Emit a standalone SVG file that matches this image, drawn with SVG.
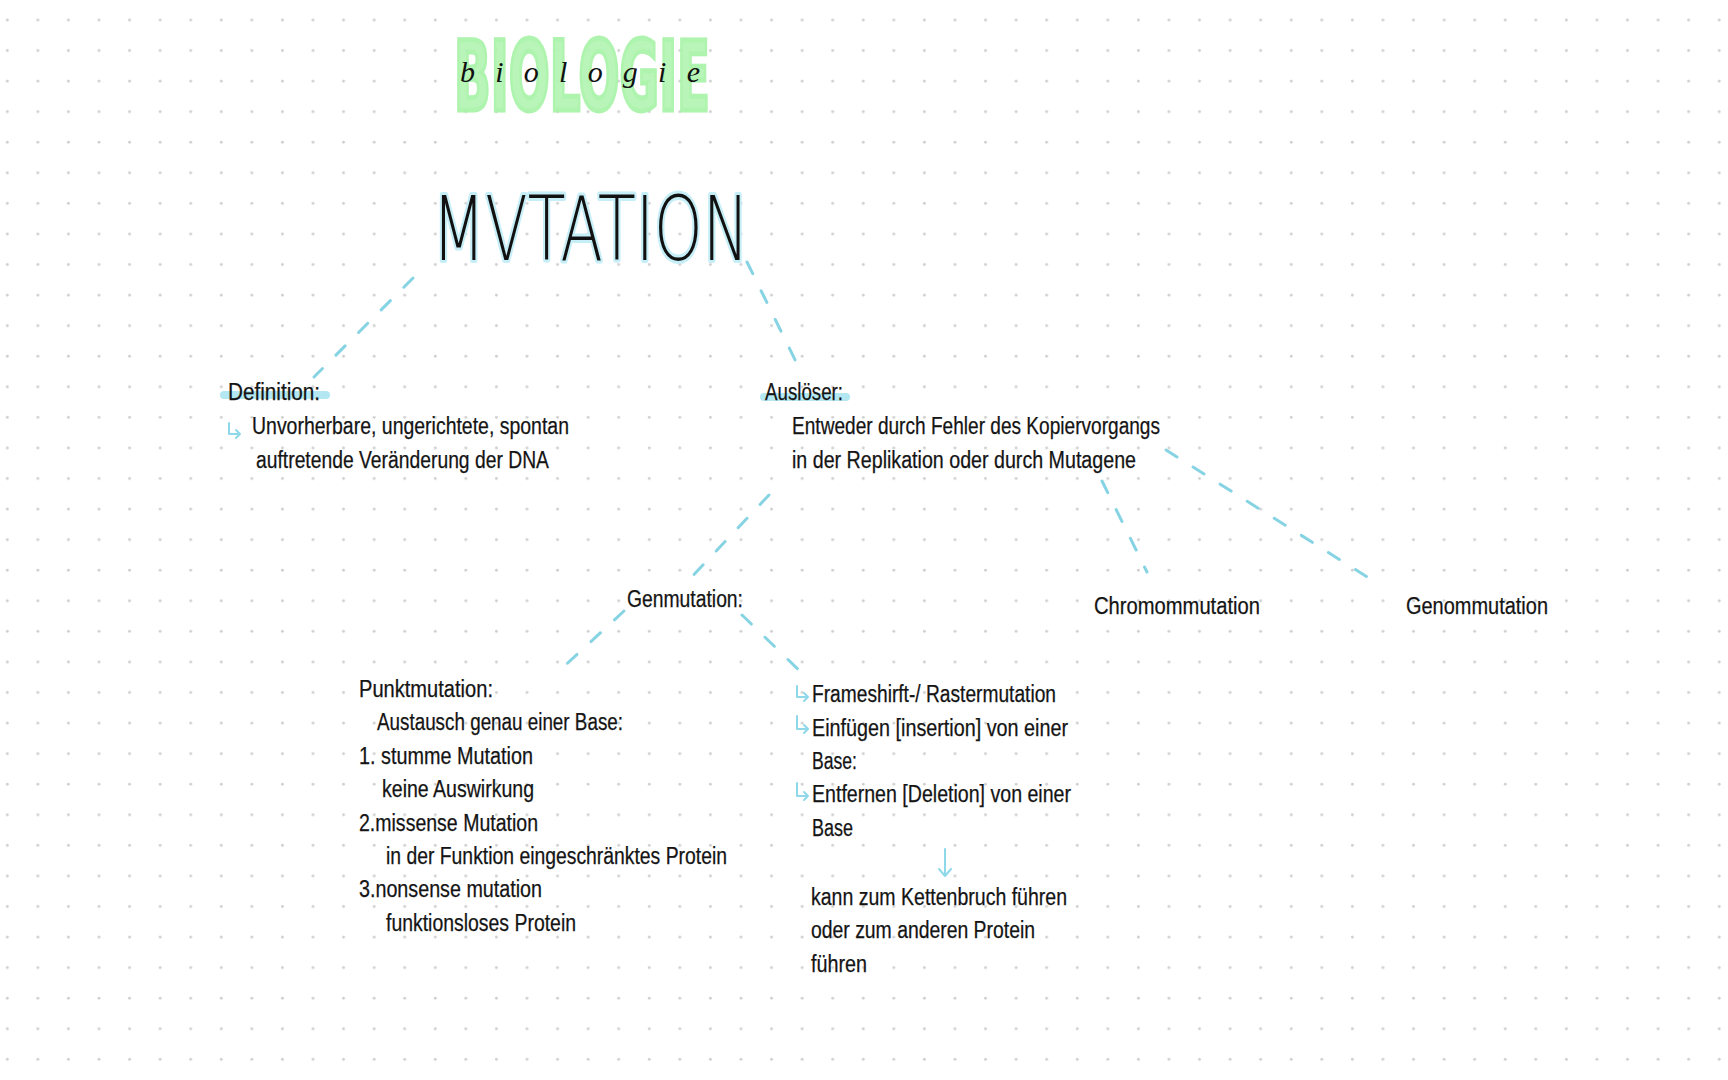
<svg xmlns="http://www.w3.org/2000/svg" width="1728" height="1080" viewBox="0 0 1728 1080">
<defs>
<pattern id="dots" patternUnits="userSpaceOnUse" x="0" y="0" width="30.57" height="30.57">
<circle cx="7.3" cy="20" r="1.4" fill="#cfcfcf"/>
</pattern>
<style>
.t{font-family:"Liberation Sans","Noto Sans",sans-serif;font-size:23px;fill:#141414;stroke:#141414;stroke-width:0.25}
.c{fill:none;stroke:#86d3e3;stroke-width:3;stroke-dasharray:13 19;stroke-linecap:round}
.a{fill:none;stroke:#8fd8ea;stroke-width:2;stroke-linecap:round;stroke-linejoin:round}
.hl{stroke:#a6e4f1;stroke-width:8;stroke-linecap:round;opacity:0.85}
</style>
</defs>
<rect width="1728" height="1080" fill="#ffffff"/>
<rect width="1728" height="1080" fill="url(#dots)"/>

<g id="header">
<text x="454" y="110" font-family="DejaVu Sans" font-weight="bold" font-size="96" fill="#b2f5b2" stroke="#a6f3a6" stroke-width="5" stroke-linejoin="miter" textLength="256" lengthAdjust="spacingAndGlyphs" opacity="0.9">BIOLOGIE</text>
<text x="460" y="82" font-family="Liberation Serif" font-style="italic" font-size="30" fill="#111" textLength="240" lengthAdjust="spacing">biologie</text>
</g>

<g id="title">
<text x="432" y="260" font-family="DejaVu Sans" font-weight="200" font-size="89" fill="none" stroke="#c6eef7" stroke-width="6" stroke-linejoin="round" textLength="317" lengthAdjust="spacingAndGlyphs">MVTATION</text>
<text x="432" y="260" font-family="DejaVu Sans" font-weight="200" font-size="89" fill="#111" textLength="317" lengthAdjust="spacingAndGlyphs">MVTATION</text>
</g>

<g id="connectors">
<line class="c" x1="413" y1="278" x2="314" y2="377"/>
<line class="c" x1="747" y1="262" x2="803" y2="376"/>
<line class="c" x1="769" y1="495" x2="686" y2="583"/>
<line class="c" x1="624" y1="611" x2="558" y2="672"/>
<line class="c" x1="742" y1="615" x2="804" y2="675"/>
<line class="c" x1="1102" y1="481" x2="1147" y2="572"/>
<line class="c" x1="1166" y1="450" x2="1372" y2="580"/>
<path class="a" d="M945 849 V876 M939 869 L945 876 L951 869"/>
</g>

<g id="definition">
<line class="hl" x1="224" y1="395" x2="326" y2="395"/>
<text class="t" x="228" y="400" textLength="92" lengthAdjust="spacingAndGlyphs">Definition:</text>
<path class="a" d="M229 423 V434 H240 M236 430 L240 434 L236 438"/>
<text class="t" x="252" y="434" textLength="317" lengthAdjust="spacingAndGlyphs">Unvorherbare, ungerichtete, spontan</text>
<text class="t" x="256" y="468" textLength="293" lengthAdjust="spacingAndGlyphs">auftretende Veränderung der DNA</text>
</g>

<g id="ausloeser">
<line class="hl" x1="764" y1="397" x2="846" y2="397"/>
<text class="t" x="765" y="400" textLength="78" lengthAdjust="spacingAndGlyphs">Auslöser:</text>
<text class="t" x="792" y="434" textLength="368" lengthAdjust="spacingAndGlyphs">Entweder durch Fehler des Kopiervorgangs</text>
<text class="t" x="792" y="468" textLength="344" lengthAdjust="spacingAndGlyphs">in der Replikation oder durch Mutagene</text>
</g>

<g id="genmutation">
<text class="t" x="627" y="607" textLength="116" lengthAdjust="spacingAndGlyphs">Genmutation:</text>
</g>

<g id="chromommutation">
<text class="t" x="1094" y="614" textLength="166" lengthAdjust="spacingAndGlyphs">Chromommutation</text>
</g>

<g id="genommutation">
<text class="t" x="1406" y="614" textLength="142" lengthAdjust="spacingAndGlyphs">Genommutation</text>
</g>

<g id="punktmutation">
<text class="t" x="359" y="697" textLength="134" lengthAdjust="spacingAndGlyphs">Punktmutation:</text>
<text class="t" x="377" y="730" textLength="246" lengthAdjust="spacingAndGlyphs">Austausch genau einer Base:</text>
<text class="t" x="359" y="764" textLength="174" lengthAdjust="spacingAndGlyphs">1. stumme Mutation</text>
<text class="t" x="382" y="797" textLength="152" lengthAdjust="spacingAndGlyphs">keine Auswirkung</text>
<text class="t" x="359" y="831" textLength="179" lengthAdjust="spacingAndGlyphs">2.missense Mutation</text>
<text class="t" x="386" y="864" textLength="341" lengthAdjust="spacingAndGlyphs">in der Funktion eingeschränktes Protein</text>
<text class="t" x="359" y="897" textLength="183" lengthAdjust="spacingAndGlyphs">3.nonsense mutation</text>
<text class="t" x="386" y="931" textLength="190" lengthAdjust="spacingAndGlyphs">funktionsloses Protein</text>
</g>

<g id="frameshift">
<path class="a" d="M797 686 V697 H808 M804 693 L808 697 L804 701"/>
<text class="t" x="812" y="702" textLength="244" lengthAdjust="spacingAndGlyphs">Frameshirft-/ Rastermutation</text>
<path class="a" d="M797 716 V729 H808 M804 725 L808 729 L804 733"/>
<text class="t" x="812" y="736" textLength="256" lengthAdjust="spacingAndGlyphs">Einfügen [insertion] von einer</text>
<text class="t" x="812" y="769" textLength="45" lengthAdjust="spacingAndGlyphs">Base:</text>
<path class="a" d="M797 783 V796 H808 M804 792 L808 796 L804 800"/>
<text class="t" x="812" y="802" textLength="259" lengthAdjust="spacingAndGlyphs">Entfernen [Deletion] von einer</text>
<text class="t" x="812" y="836" textLength="41" lengthAdjust="spacingAndGlyphs">Base</text>
</g>

<g id="folge">
<text class="t" x="811" y="905" textLength="256" lengthAdjust="spacingAndGlyphs">kann zum Kettenbruch führen</text>
<text class="t" x="811" y="938" textLength="224" lengthAdjust="spacingAndGlyphs">oder zum anderen Protein</text>
<text class="t" x="811" y="972" textLength="56" lengthAdjust="spacingAndGlyphs">führen</text>
</g>
</svg>
